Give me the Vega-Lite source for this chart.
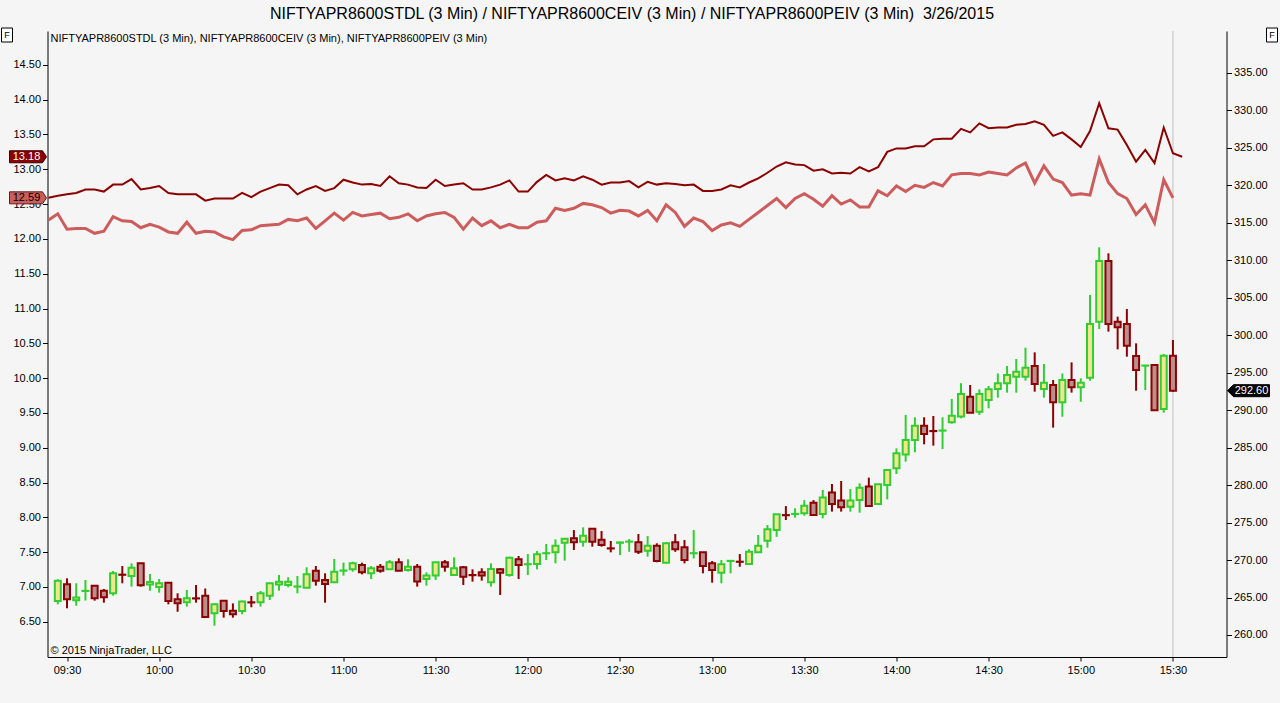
{
  "$schema": "https://vega.github.io/schema/vega-lite/v6.json",
  "width": 1179,
  "height": 626,
  "autosize": {"type": "none"},
  "padding": {"left": 47.5, "top": 31, "right": 53.5, "bottom": 46},
  "background": "#f5f5f5",
  "config": {
    "view": {"stroke": null},
    "font": "Liberation Sans",
    "axis": {"grid": false, "domainColor": "#000000", "tickColor": "#000000", "labelColor": "#000000", "labelFont": "Liberation Sans", "labelFontSize": 11, "tickSize": 5, "labelPadding": 2, "labelFlush": false, "labelOverlap": false}
  },
  "title": {"text": "NIFTYAPR8600STDL (3 Min) / NIFTYAPR8600CEIV (3 Min) / NIFTYAPR8600PEIV (3 Min)\u00a0 3/26/2015", "fontSize": 16, "fontWeight": "normal", "font": "Liberation Sans", "color": "#000000", "anchor": "middle", "frame": "group", "offset": 11, "baseline": "alphabetic", "dx": -5, "dy": 20},
  "datasets": {
    "candles": [
      {"t":"09:27","open":264.53,"high":267.43,"low":264.09,"close":267.25},
      {"t":"09:30","open":266.76,"high":267.56,"low":263.56,"close":264.76},
      {"t":"09:33","open":264.62,"high":266.9,"low":263.9,"close":265.0},
      {"t":"09:36","open":265.87,"high":267.34,"low":264.6,"close":265.89},
      {"t":"09:39","open":266.58,"high":266.6,"low":264.58,"close":264.89},
      {"t":"09:42","open":265.91,"high":266.14,"low":264.31,"close":265.02},
      {"t":"09:45","open":265.56,"high":268.54,"low":265.25,"close":268.23},
      {"t":"09:48","open":268.05,"high":269.2,"low":266.9,"close":268.03},
      {"t":"09:51","open":267.87,"high":269.56,"low":266.45,"close":268.98},
      {"t":"09:54","open":269.56,"high":269.56,"low":266.45,"close":266.63},
      {"t":"09:57","open":266.72,"high":268.14,"low":265.91,"close":267.07},
      {"t":"10:00","open":266.4,"high":267.47,"low":265.65,"close":266.9},
      {"t":"10:03","open":266.98,"high":267.0,"low":264.09,"close":264.53},
      {"t":"10:06","open":264.76,"high":265.56,"low":263.1,"close":264.22},
      {"t":"10:09","open":264.36,"high":266.0,"low":263.78,"close":264.89},
      {"t":"10:12","open":264.89,"high":266.67,"low":264.31,"close":264.87},
      {"t":"10:15","open":265.25,"high":266.2,"low":262.4,"close":262.4},
      {"t":"10:18","open":262.89,"high":264.22,"low":261.24,"close":264.09},
      {"t":"10:21","open":264.58,"high":264.58,"low":262.31,"close":263.2},
      {"t":"10:24","open":263.24,"high":264.22,"low":262.31,"close":262.76},
      {"t":"10:27","open":263.2,"high":264.58,"low":262.76,"close":264.45},
      {"t":"10:30","open":264.36,"high":265.2,"low":263.7,"close":264.34},
      {"t":"10:33","open":264.36,"high":265.87,"low":263.78,"close":265.56},
      {"t":"10:36","open":265.25,"high":266.9,"low":264.67,"close":266.9},
      {"t":"10:39","open":266.72,"high":268.0,"low":265.91,"close":267.11},
      {"t":"10:42","open":266.67,"high":267.7,"low":266.36,"close":267.11},
      {"t":"10:45","open":266.45,"high":267.87,"low":265.56,"close":266.47},
      {"t":"10:48","open":266.31,"high":269.03,"low":266.31,"close":268.09},
      {"t":"10:51","open":268.58,"high":269.2,"low":266.58,"close":267.25},
      {"t":"10:54","open":267.34,"high":268.23,"low":264.31,"close":266.8},
      {"t":"10:57","open":267.03,"high":270.14,"low":267.03,"close":268.45},
      {"t":"11:00","open":268.58,"high":269.65,"low":267.92,"close":268.6},
      {"t":"11:03","open":268.76,"high":269.78,"low":268.45,"close":269.56},
      {"t":"11:06","open":269.34,"high":269.65,"low":268.09,"close":268.36},
      {"t":"11:09","open":268.23,"high":269.2,"low":267.47,"close":268.9},
      {"t":"11:12","open":269.12,"high":269.47,"low":268.31,"close":268.58},
      {"t":"11:15","open":268.76,"high":270.0,"low":268.76,"close":269.7},
      {"t":"11:18","open":269.7,"high":270.23,"low":268.58,"close":268.58},
      {"t":"11:21","open":268.67,"high":270.1,"low":268.45,"close":269.12},
      {"t":"11:24","open":269.12,"high":269.47,"low":266.45,"close":267.12},
      {"t":"11:27","open":267.47,"high":268.36,"low":266.58,"close":267.92},
      {"t":"11:30","open":267.92,"high":269.7,"low":267.34,"close":269.7},
      {"t":"11:33","open":269.7,"high":270.0,"low":268.45,"close":269.12},
      {"t":"11:36","open":268.0,"high":270.36,"low":268.0,"close":268.9},
      {"t":"11:39","open":269.03,"high":269.2,"low":266.67,"close":267.78},
      {"t":"11:42","open":268.0,"high":268.76,"low":267.12,"close":267.98},
      {"t":"11:45","open":268.36,"high":268.9,"low":267.25,"close":267.92},
      {"t":"11:48","open":267.03,"high":269.56,"low":266.45,"close":268.8},
      {"t":"11:51","open":268.76,"high":268.9,"low":265.34,"close":268.31},
      {"t":"11:54","open":268.0,"high":270.45,"low":267.78,"close":270.32},
      {"t":"11:57","open":270.1,"high":270.54,"low":267.47,"close":269.34},
      {"t":"12:00","open":269.43,"high":270.8,"low":268.0,"close":269.45},
      {"t":"12:03","open":269.47,"high":271.2,"low":268.76,"close":270.76},
      {"t":"12:06","open":270.9,"high":272.14,"low":270.0,"close":270.92},
      {"t":"12:09","open":271.03,"high":272.76,"low":269.56,"close":271.92},
      {"t":"12:12","open":272.32,"high":272.85,"low":269.92,"close":272.85},
      {"t":"12:15","open":272.9,"high":274.0,"low":271.34,"close":272.36},
      {"t":"12:18","open":272.45,"high":274.36,"low":271.78,"close":273.25},
      {"t":"12:21","open":274.18,"high":274.18,"low":271.78,"close":272.45},
      {"t":"12:24","open":272.72,"high":273.87,"low":271.78,"close":272.0},
      {"t":"12:27","open":271.56,"high":272.54,"low":271.03,"close":271.54},
      {"t":"12:30","open":272.3,"high":272.45,"low":270.67,"close":272.35},
      {"t":"12:33","open":272.45,"high":272.8,"low":271.1,"close":272.47},
      {"t":"12:36","open":272.36,"high":273.47,"low":270.8,"close":271.1},
      {"t":"12:39","open":271.25,"high":273.2,"low":270.45,"close":271.92},
      {"t":"12:42","open":271.92,"high":272.23,"low":269.7,"close":269.87},
      {"t":"12:45","open":269.65,"high":272.36,"low":269.56,"close":272.23},
      {"t":"12:48","open":272.36,"high":273.47,"low":271.1,"close":271.43},
      {"t":"12:51","open":271.7,"high":272.67,"low":269.56,"close":270.0},
      {"t":"12:54","open":270.9,"high":274.0,"low":270.2,"close":270.92},
      {"t":"12:57","open":271.03,"high":271.03,"low":268.23,"close":269.2},
      {"t":"13:00","open":269.56,"high":269.87,"low":266.98,"close":268.67},
      {"t":"13:03","open":268.31,"high":270.0,"low":266.89,"close":269.43},
      {"t":"13:06","open":269.87,"high":270.0,"low":268.23,"close":269.89},
      {"t":"13:09","open":269.78,"high":270.8,"low":269.1,"close":269.76},
      {"t":"13:12","open":269.47,"high":271.43,"low":269.47,"close":271.12},
      {"t":"13:15","open":271.03,"high":273.34,"low":271.03,"close":271.92},
      {"t":"13:18","open":272.58,"high":274.67,"low":271.65,"close":274.1},
      {"t":"13:21","open":274.0,"high":276.1,"low":273.1,"close":276.1},
      {"t":"13:24","open":276.0,"high":277.2,"low":275.34,"close":275.98},
      {"t":"13:27","open":276.14,"high":276.9,"low":275.65,"close":276.16},
      {"t":"13:30","open":276.24,"high":278.0,"low":275.92,"close":277.26},
      {"t":"13:33","open":277.66,"high":278.0,"low":276.0,"close":276.0},
      {"t":"13:36","open":276.15,"high":279.35,"low":275.57,"close":278.33},
      {"t":"13:39","open":279.0,"high":280.15,"low":276.46,"close":277.48},
      {"t":"13:42","open":277.93,"high":280.55,"low":276.46,"close":277.04},
      {"t":"13:45","open":277.12,"high":279.48,"low":276.46,"close":277.93},
      {"t":"13:48","open":278.0,"high":280.24,"low":276.32,"close":279.66},
      {"t":"13:51","open":279.8,"high":281.0,"low":277.22,"close":277.22},
      {"t":"13:54","open":277.48,"high":280.1,"low":277.48,"close":280.1},
      {"t":"13:57","open":280.0,"high":282.02,"low":278.1,"close":282.02},
      {"t":"14:00","open":282.24,"high":284.91,"low":281.48,"close":284.24},
      {"t":"14:03","open":284.1,"high":289.36,"low":283.13,"close":286.02},
      {"t":"14:06","open":286.02,"high":289.05,"low":284.38,"close":287.93},
      {"t":"14:09","open":287.93,"high":289.05,"low":285.44,"close":286.82},
      {"t":"14:12","open":287.22,"high":289.22,"low":285.27,"close":287.2},
      {"t":"14:15","open":287.27,"high":289.05,"low":284.82,"close":287.29},
      {"t":"14:18","open":288.4,"high":291.5,"low":288.2,"close":289.25},
      {"t":"14:21","open":289.14,"high":293.6,"low":288.92,"close":292.16},
      {"t":"14:24","open":291.8,"high":293.36,"low":289.67,"close":289.67},
      {"t":"14:27","open":289.8,"high":292.78,"low":289.36,"close":292.16},
      {"t":"14:30","open":291.36,"high":293.23,"low":290.25,"close":292.78},
      {"t":"14:33","open":292.83,"high":294.9,"low":291.67,"close":293.58},
      {"t":"14:36","open":293.58,"high":295.9,"low":292.34,"close":294.7},
      {"t":"14:39","open":294.47,"high":296.83,"low":292.34,"close":295.14},
      {"t":"14:42","open":294.47,"high":298.34,"low":293.94,"close":295.67},
      {"t":"14:45","open":295.9,"high":297.72,"low":292.47,"close":293.5},
      {"t":"14:48","open":292.83,"high":296.16,"low":291.67,"close":293.67},
      {"t":"14:51","open":293.36,"high":294.03,"low":287.67,"close":291.05},
      {"t":"14:54","open":291.05,"high":294.9,"low":289.13,"close":294.03},
      {"t":"14:57","open":294.03,"high":296.38,"low":292.34,"close":293.05},
      {"t":"15:00","open":293.05,"high":294.25,"low":291.13,"close":293.67},
      {"t":"15:03","open":294.34,"high":305.37,"low":293.94,"close":301.5},
      {"t":"15:06","open":301.81,"high":311.73,"low":300.83,"close":309.91},
      {"t":"15:09","open":309.91,"high":310.93,"low":300.48,"close":301.5},
      {"t":"15:12","open":301.81,"high":302.48,"low":298.12,"close":301.05},
      {"t":"15:15","open":301.5,"high":303.5,"low":297.14,"close":298.61},
      {"t":"15:18","open":297.23,"high":298.92,"low":292.6,"close":295.36},
      {"t":"15:21","open":295.94,"high":295.96,"low":292.69,"close":295.96},
      {"t":"15:24","open":296.03,"high":296.03,"low":290.0,"close":290.0},
      {"t":"15:27","open":290.16,"high":297.5,"low":289.67,"close":297.27},
      {"t":"15:30","open":297.27,"high":299.36,"low":292.47,"close":292.6}
    ],
    "iv": [
      {"t":"09:24","ceiv":12.59,"peiv":12.27},
      {"t":"09:27","ceiv":12.62,"peiv":12.36},
      {"t":"09:30","ceiv":12.64,"peiv":12.14},
      {"t":"09:33","ceiv":12.66,"peiv":12.15},
      {"t":"09:36","ceiv":12.71,"peiv":12.15},
      {"t":"09:39","ceiv":12.71,"peiv":12.08},
      {"t":"09:42","ceiv":12.68,"peiv":12.11},
      {"t":"09:45","ceiv":12.78,"peiv":12.32},
      {"t":"09:48","ceiv":12.78,"peiv":12.26},
      {"t":"09:51","ceiv":12.86,"peiv":12.25},
      {"t":"09:54","ceiv":12.71,"peiv":12.16},
      {"t":"09:57","ceiv":12.73,"peiv":12.21},
      {"t":"10:00","ceiv":12.76,"peiv":12.17},
      {"t":"10:03","ceiv":12.66,"peiv":12.10},
      {"t":"10:06","ceiv":12.64,"peiv":12.08},
      {"t":"10:09","ceiv":12.64,"peiv":12.24},
      {"t":"10:12","ceiv":12.64,"peiv":12.08},
      {"t":"10:15","ceiv":12.55,"peiv":12.11},
      {"t":"10:18","ceiv":12.58,"peiv":12.10},
      {"t":"10:21","ceiv":12.58,"peiv":12.03},
      {"t":"10:24","ceiv":12.58,"peiv":11.99},
      {"t":"10:27","ceiv":12.66,"peiv":12.12},
      {"t":"10:30","ceiv":12.60,"peiv":12.13},
      {"t":"10:33","ceiv":12.68,"peiv":12.19},
      {"t":"10:36","ceiv":12.73,"peiv":12.20},
      {"t":"10:39","ceiv":12.78,"peiv":12.21},
      {"t":"10:42","ceiv":12.77,"peiv":12.28},
      {"t":"10:45","ceiv":12.64,"peiv":12.26},
      {"t":"10:48","ceiv":12.71,"peiv":12.30},
      {"t":"10:51","ceiv":12.76,"peiv":12.15},
      {"t":"10:54","ceiv":12.69,"peiv":12.26},
      {"t":"10:57","ceiv":12.73,"peiv":12.37},
      {"t":"11:00","ceiv":12.85,"peiv":12.27},
      {"t":"11:03","ceiv":12.81,"peiv":12.38},
      {"t":"11:06","ceiv":12.78,"peiv":12.33},
      {"t":"11:09","ceiv":12.79,"peiv":12.35},
      {"t":"11:12","ceiv":12.76,"peiv":12.37},
      {"t":"11:15","ceiv":12.90,"peiv":12.29},
      {"t":"11:18","ceiv":12.80,"peiv":12.31},
      {"t":"11:21","ceiv":12.78,"peiv":12.36},
      {"t":"11:24","ceiv":12.74,"peiv":12.26},
      {"t":"11:27","ceiv":12.73,"peiv":12.33},
      {"t":"11:30","ceiv":12.85,"peiv":12.36},
      {"t":"11:33","ceiv":12.76,"peiv":12.38},
      {"t":"11:36","ceiv":12.78,"peiv":12.31},
      {"t":"11:39","ceiv":12.80,"peiv":12.14},
      {"t":"11:42","ceiv":12.71,"peiv":12.30},
      {"t":"11:45","ceiv":12.71,"peiv":12.19},
      {"t":"11:48","ceiv":12.74,"peiv":12.26},
      {"t":"11:51","ceiv":12.78,"peiv":12.16},
      {"t":"11:54","ceiv":12.84,"peiv":12.21},
      {"t":"11:57","ceiv":12.68,"peiv":12.16},
      {"t":"12:00","ceiv":12.68,"peiv":12.16},
      {"t":"12:03","ceiv":12.82,"peiv":12.24},
      {"t":"12:06","ceiv":12.92,"peiv":12.26},
      {"t":"12:09","ceiv":12.84,"peiv":12.44},
      {"t":"12:12","ceiv":12.87,"peiv":12.41},
      {"t":"12:15","ceiv":12.84,"peiv":12.44},
      {"t":"12:18","ceiv":12.90,"peiv":12.51},
      {"t":"12:21","ceiv":12.85,"peiv":12.49},
      {"t":"12:24","ceiv":12.78,"peiv":12.45},
      {"t":"12:27","ceiv":12.81,"peiv":12.37},
      {"t":"12:30","ceiv":12.81,"peiv":12.41},
      {"t":"12:33","ceiv":12.83,"peiv":12.40},
      {"t":"12:36","ceiv":12.74,"peiv":12.33},
      {"t":"12:39","ceiv":12.82,"peiv":12.41},
      {"t":"12:42","ceiv":12.78,"peiv":12.26},
      {"t":"12:45","ceiv":12.80,"peiv":12.49},
      {"t":"12:48","ceiv":12.79,"peiv":12.38},
      {"t":"12:51","ceiv":12.77,"peiv":12.18},
      {"t":"12:54","ceiv":12.78,"peiv":12.30},
      {"t":"12:57","ceiv":12.69,"peiv":12.25},
      {"t":"13:00","ceiv":12.69,"peiv":12.12},
      {"t":"13:03","ceiv":12.71,"peiv":12.20},
      {"t":"13:06","ceiv":12.77,"peiv":12.23},
      {"t":"13:09","ceiv":12.74,"peiv":12.18},
      {"t":"13:12","ceiv":12.81,"peiv":12.28},
      {"t":"13:15","ceiv":12.87,"peiv":12.38},
      {"t":"13:18","ceiv":12.95,"peiv":12.48},
      {"t":"13:21","ceiv":13.04,"peiv":12.58},
      {"t":"13:24","ceiv":13.10,"peiv":12.45},
      {"t":"13:27","ceiv":13.07,"peiv":12.58},
      {"t":"13:30","ceiv":13.06,"peiv":12.65},
      {"t":"13:33","ceiv":12.98,"peiv":12.57},
      {"t":"13:36","ceiv":13.00,"peiv":12.47},
      {"t":"13:39","ceiv":12.94,"peiv":12.62},
      {"t":"13:42","ceiv":12.95,"peiv":12.50},
      {"t":"13:45","ceiv":12.94,"peiv":12.56},
      {"t":"13:48","ceiv":13.03,"peiv":12.46},
      {"t":"13:51","ceiv":12.97,"peiv":12.46},
      {"t":"13:54","ceiv":13.03,"peiv":12.69},
      {"t":"13:57","ceiv":13.25,"peiv":12.62},
      {"t":"14:00","ceiv":13.30,"peiv":12.76},
      {"t":"14:03","ceiv":13.30,"peiv":12.68},
      {"t":"14:06","ceiv":13.33,"peiv":12.77},
      {"t":"14:09","ceiv":13.33,"peiv":12.74},
      {"t":"14:12","ceiv":13.43,"peiv":12.81},
      {"t":"14:15","ceiv":13.44,"peiv":12.76},
      {"t":"14:18","ceiv":13.44,"peiv":12.92},
      {"t":"14:21","ceiv":13.58,"peiv":12.94},
      {"t":"14:24","ceiv":13.53,"peiv":12.94},
      {"t":"14:27","ceiv":13.66,"peiv":12.92},
      {"t":"14:30","ceiv":13.59,"peiv":12.96},
      {"t":"14:33","ceiv":13.60,"peiv":12.94},
      {"t":"14:36","ceiv":13.60,"peiv":12.92},
      {"t":"14:39","ceiv":13.64,"peiv":13.02},
      {"t":"14:42","ceiv":13.65,"peiv":13.09},
      {"t":"14:45","ceiv":13.69,"peiv":12.80},
      {"t":"14:48","ceiv":13.64,"peiv":13.05},
      {"t":"14:51","ceiv":13.48,"peiv":12.86},
      {"t":"14:54","ceiv":13.53,"peiv":12.81},
      {"t":"14:57","ceiv":13.43,"peiv":12.63},
      {"t":"15:00","ceiv":13.32,"peiv":12.65},
      {"t":"15:03","ceiv":13.55,"peiv":12.63},
      {"t":"15:06","ceiv":13.95,"peiv":13.15},
      {"t":"15:09","ceiv":13.59,"peiv":12.81},
      {"t":"15:12","ceiv":13.57,"peiv":12.65},
      {"t":"15:15","ceiv":13.35,"peiv":12.58},
      {"t":"15:18","ceiv":13.11,"peiv":12.35},
      {"t":"15:21","ceiv":13.28,"peiv":12.49},
      {"t":"15:24","ceiv":13.09,"peiv":12.23},
      {"t":"15:27","ceiv":13.60,"peiv":12.85},
      {"t":"15:30","ceiv":13.23,"peiv":12.59},
      {"t":"15:33","ceiv":13.18,"peiv":null}
    ]
  },
  "layer": [
    {
      "data": {"name": "candles", "format": {"parse": {"t": "date:'%H:%M'"}}},
      "layer": [
        {
          "data": {"values": [{}]},
          "mark": {"type": "rule", "color": "#c0c0c0", "strokeWidth": 1},
          "encoding": {
            "x": {"datum": {"year":1900,"month":1,"date":1,"hours":15,"minutes":30}, "type": "temporal"}
          }
        },
        {
          "mark": {"type": "rule", "strokeWidth": 2},
          "encoding": {
            "x": {"field": "t", "type": "temporal",
              "scale": {"domain": [{"year":1900,"month":1,"date":1,"hours":9,"minutes":23,"seconds":39}, {"year":1900,"month":1,"date":1,"hours":15,"minutes":47,"seconds":26}], "nice": false, "padding": 0},
              "axis": {"orient": "bottom", "title": null, "format": "%H:%M", "tickSize": 4, "labelPadding": 3, "labelOverlap": false, "tickCount": 40,
                "values": [
                  {"year":1900,"month":1,"date":1,"hours":9,"minutes":30},
                  {"year":1900,"month":1,"date":1,"hours":10,"minutes":0},
                  {"year":1900,"month":1,"date":1,"hours":10,"minutes":30},
                  {"year":1900,"month":1,"date":1,"hours":11,"minutes":0},
                  {"year":1900,"month":1,"date":1,"hours":11,"minutes":30},
                  {"year":1900,"month":1,"date":1,"hours":12,"minutes":0},
                  {"year":1900,"month":1,"date":1,"hours":12,"minutes":30},
                  {"year":1900,"month":1,"date":1,"hours":13,"minutes":0},
                  {"year":1900,"month":1,"date":1,"hours":13,"minutes":30},
                  {"year":1900,"month":1,"date":1,"hours":14,"minutes":0},
                  {"year":1900,"month":1,"date":1,"hours":14,"minutes":30},
                  {"year":1900,"month":1,"date":1,"hours":15,"minutes":0},
                  {"year":1900,"month":1,"date":1,"hours":15,"minutes":30}
                ]}},
            "y": {"field": "low", "type": "quantitative",
              "scale": {"domain": [257.06, 340.6], "nice": false, "zero": false},
              "axis": {"orient": "right", "title": null, "format": ".2f", "labelOverlap": false, "tickCount": 40, "values": [260,265,270,275,280,285,290,295,300,305,310,315,320,325,330,335]}},
            "y2": {"field": "high"},
            "color": {"condition": {"test": "datum.close >= datum.open", "value": "#32CD32"}, "value": "#8B0000"}
          }
        },
        {
          "mark": {"type": "bar", "width": 6, "strokeWidth": 2},
          "encoding": {
            "x": {"field": "t", "type": "temporal"},
            "y": {"field": "open", "type": "quantitative"},
            "y2": {"field": "close"},
            "fill": {"condition": {"test": "datum.close >= datum.open", "value": "#F0E68C"}, "value": "#BC8F8F"},
            "stroke": {"condition": {"test": "datum.close >= datum.open", "value": "#32CD32"}, "value": "#8B0000"}
          }
        },
        {
          "transform": [{"aggregate": [{"op": "argmax", "field": "t", "as": "last"}]}],
          "mark": {"type": "point", "shape": "M 1 0 L 7 -6 L 43 -6 L 43 6 L 7 6 Z", "size": 4, "filled": true, "opacity": 1, "fill": "#000000", "stroke": "#000000", "strokeWidth": 1},
          "encoding": {
            "x": {"datum": {"year":1900,"month":1,"date":1,"hours":15,"minutes":47,"seconds":26}, "type": "temporal"},
            "y": {"field": "last.close", "type": "quantitative"}
          }
        },
        {
          "transform": [{"aggregate": [{"op": "argmax", "field": "t", "as": "last"}]}],
          "mark": {"type": "text", "dx": 25, "align": "center", "baseline": "middle", "fontSize": 11, "color": "#ffffff", "font": "Liberation Sans"},
          "encoding": {
            "x": {"datum": {"year":1900,"month":1,"date":1,"hours":15,"minutes":47,"seconds":26}, "type": "temporal"},
            "y": {"field": "last.close", "type": "quantitative"},
            "text": {"field": "last.close", "type": "quantitative", "format": ".2f"}
          }
        }
      ]
    },
    {
      "data": {"name": "iv", "format": {"parse": {"t": "date:'%H:%M'"}}},
      "layer": [
        {
          "mark": {"type": "line", "color": "#CD5C5C", "strokeWidth": 3},
          "encoding": {
            "x": {"field": "t", "type": "temporal",
              "scale": {"domain": [{"year":1900,"month":1,"date":1,"hours":9,"minutes":23,"seconds":39}, {"year":1900,"month":1,"date":1,"hours":15,"minutes":47,"seconds":26}], "nice": false, "padding": 0}},
            "y": {"field": "peiv", "type": "quantitative",
              "scale": {"domain": [5.993, 14.987], "nice": false, "zero": false},
              "axis": {"orient": "left", "title": null, "format": ".2f", "labelOverlap": false, "tickCount": 40, "values": [6.5,7,7.5,8,8.5,9,9.5,10,10.5,11,11.5,12,12.5,13,13.5,14,14.5]}}
          }
        },
        {
          "mark": {"type": "line", "color": "#8B0000", "strokeWidth": 2},
          "encoding": {
            "x": {"field": "t", "type": "temporal"},
            "y": {"field": "ceiv", "type": "quantitative"}
          }
        },
        {
          "transform": [{"filter": "isValid(datum.ceiv)"}, {"aggregate": [{"op": "argmax", "field": "t", "as": "last"}]}],
          "mark": {"type": "point", "shape": "M -38 -6 L -5 -6 L -1 0 L -5 6 L -38 6 Z", "size": 4, "filled": true, "opacity": 1, "fill": "#8B0000", "stroke": "#3a0000", "strokeWidth": 1},
          "encoding": {
            "x": {"datum": {"year":1900,"month":1,"date":1,"hours":9,"minutes":23,"seconds":39}, "type": "temporal"},
            "y": {"field": "last.ceiv", "type": "quantitative"}
          }
        },
        {
          "transform": [{"filter": "isValid(datum.ceiv)"}, {"aggregate": [{"op": "argmax", "field": "t", "as": "last"}]}],
          "mark": {"type": "text", "dx": -21, "align": "center", "baseline": "middle", "fontSize": 11, "color": "#ffffff", "font": "Liberation Sans"},
          "encoding": {
            "x": {"datum": {"year":1900,"month":1,"date":1,"hours":9,"minutes":23,"seconds":39}, "type": "temporal"},
            "y": {"field": "last.ceiv", "type": "quantitative"},
            "text": {"field": "last.ceiv", "type": "quantitative", "format": ".2f"}
          }
        },
        {
          "transform": [{"filter": "isValid(datum.peiv)"}, {"aggregate": [{"op": "argmax", "field": "t", "as": "last"}]}],
          "mark": {"type": "point", "shape": "M -38 -6 L -5 -6 L -1 0 L -5 6 L -38 6 Z", "size": 4, "filled": true, "opacity": 1, "fill": "#CD5C5C", "stroke": "#5a2020", "strokeWidth": 1},
          "encoding": {
            "x": {"datum": {"year":1900,"month":1,"date":1,"hours":9,"minutes":23,"seconds":39}, "type": "temporal"},
            "y": {"field": "last.peiv", "type": "quantitative"}
          }
        },
        {
          "transform": [{"filter": "isValid(datum.peiv)"}, {"aggregate": [{"op": "argmax", "field": "t", "as": "last"}]}],
          "mark": {"type": "text", "dx": -21, "align": "center", "baseline": "middle", "fontSize": 11, "color": "#000000", "font": "Liberation Sans"},
          "encoding": {
            "x": {"datum": {"year":1900,"month":1,"date":1,"hours":9,"minutes":23,"seconds":39}, "type": "temporal"},
            "y": {"field": "last.peiv", "type": "quantitative"},
            "text": {"field": "last.peiv", "type": "quantitative", "format": ".2f"}
          }
        },
        {
          "data": {"values": [{}]},
          "mark": {"type": "text", "text": "NIFTYAPR8600STDL (3 Min), NIFTYAPR8600CEIV (3 Min), NIFTYAPR8600PEIV (3 Min)", "dx": 3, "dy": 8, "align": "left", "baseline": "middle", "fontSize": 11, "color": "#000000", "font": "Liberation Sans"},
          "encoding": {
            "x": {"datum": {"year":1900,"month":1,"date":1,"hours":9,"minutes":23,"seconds":39}, "type": "temporal"},
            "y": {"datum": 14.987, "type": "quantitative"}
          }
        },
        {
          "data": {"values": [{}]},
          "mark": {"type": "text", "text": "© 2015 NinjaTrader, LLC", "dx": 3, "dy": -6, "align": "left", "baseline": "middle", "fontSize": 11, "color": "#000000", "font": "Liberation Sans"},
          "encoding": {
            "x": {"datum": {"year":1900,"month":1,"date":1,"hours":9,"minutes":23,"seconds":39}, "type": "temporal"},
            "y": {"datum": 5.993, "type": "quantitative"}
          }
        },
        {
          "data": {"values": [{}]},
          "mark": {"type": "point", "shape": "M -46 -3 L -35 -3 L -35 11 L -46 11 Z", "size": 4, "filled": true, "opacity": 1, "fill": "#ffffff", "stroke": "#000000", "strokeWidth": 1},
          "encoding": {
            "x": {"datum": {"year":1900,"month":1,"date":1,"hours":9,"minutes":23,"seconds":39}, "type": "temporal"},
            "y": {"datum": 14.987, "type": "quantitative"}
          }
        },
        {
          "data": {"values": [{}]},
          "mark": {"type": "text", "text": "F", "dx": -40.5, "dy": 4, "align": "center", "baseline": "middle", "fontSize": 9, "color": "#000000", "font": "Liberation Sans"},
          "encoding": {
            "x": {"datum": {"year":1900,"month":1,"date":1,"hours":9,"minutes":23,"seconds":39}, "type": "temporal"},
            "y": {"datum": 14.987, "type": "quantitative"}
          }
        },
        {
          "data": {"values": [{}]},
          "mark": {"type": "point", "shape": "M 40 -3 L 51 -3 L 51 11 L 40 11 Z", "size": 4, "filled": true, "opacity": 1, "fill": "#ffffff", "stroke": "#000000", "strokeWidth": 1},
          "encoding": {
            "x": {"datum": {"year":1900,"month":1,"date":1,"hours":15,"minutes":47,"seconds":26}, "type": "temporal"},
            "y": {"datum": 14.987, "type": "quantitative"}
          }
        },
        {
          "data": {"values": [{}]},
          "mark": {"type": "text", "text": "F", "dx": 45.5, "dy": 4, "align": "center", "baseline": "middle", "fontSize": 9, "color": "#000000", "font": "Liberation Sans"},
          "encoding": {
            "x": {"datum": {"year":1900,"month":1,"date":1,"hours":15,"minutes":47,"seconds":26}, "type": "temporal"},
            "y": {"datum": 14.987, "type": "quantitative"}
          }
        }
      ]
    }
  ],
  "resolve": {"scale": {"y": "independent"}}
}
